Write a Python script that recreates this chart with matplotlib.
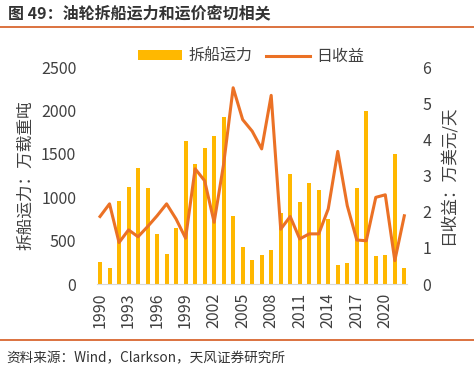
import matplotlib
matplotlib.use("Agg")
import matplotlib.pyplot as plt
import numpy as np
from matplotlib.lines import Line2D
from matplotlib.patches import Patch

plt.rcParams['font.family'] = ['Noto Sans CJK SC', 'DejaVu Sans']

years = list(range(1990, 2023))
# 拆船运力 (万载重吨)
scrap = [258, 185, 962, 1123, 1342, 1104, 573, 346, 642, 1646, 1385, 1565, 1712,
         1923, 785, 423, 283, 335, 392, 815, 1269, 950, 1162, 1088, 754, 223,
         238, 1104, 2000, 327, 338, 1504, 188]
# 日收益 (万美元/天)
earn = [1.87, 2.22, 1.15, 1.50, 1.31, 1.59, 1.89, 2.22, 1.80, 1.27, 3.19, 2.86, 1.71,
        3.32, 5.43, 4.55, 4.23, 3.74, 5.22, 1.52, 1.87, 1.25, 1.39, 1.39, 2.08, 3.67,
        2.17, 1.22, 1.20, 2.40, 2.47, 0.65, 1.89]
xticks = list(range(1990, 2021, 3))

bar_c = '#FFB800'
line_c = '#EB7125'
txt_c = '#404040'

fig = plt.figure(figsize=(4.74, 3.69), dpi=100)
ax = fig.add_axes([0.205, 0.230, 0.654, 0.588])
ax2 = ax.twinx()

ax.bar(years, scrap, width=0.42, color=bar_c, zorder=2)
ax2.plot(years, earn, color=line_c, lw=2.2, zorder=3)

ax.set_xlim(1989.7, 2022.3)
ax.set_ylim(0, 2500)
ax2.set_ylim(0, 6)
ax.set_yticks([0, 500, 1000, 1500, 2000, 2500])
ax2.set_yticks(range(7))
ax.set_xticks(xticks)
ax.set_xticklabels([str(y) for y in xticks], rotation=90)

for a in (ax, ax2):
    for s in a.spines.values():
        s.set_visible(False)
    a.tick_params(length=0, labelsize=11.5, colors=txt_c)
ax.spines['bottom'].set_visible(True)
ax.spines['bottom'].set_color('#D9D9D9')
ax.tick_params(axis='y', pad=15)
ax.tick_params(axis='x', pad=6)
ax2.tick_params(axis='y', pad=11)

ax.set_ylabel('拆船运力：万载重吨', fontsize=12, color=txt_c, labelpad=5)
ax2.set_ylabel('日收益：万美元/天', fontsize=12, color=txt_c, labelpad=6)

handles = [Patch(facecolor=bar_c, edgecolor='none'),
           Line2D([0], [0], color=line_c, lw=2.2)]
fig.legend(handles, ['拆船运力', '日收益'], loc='center', bbox_to_anchor=(0.53, 0.847),
           ncol=2, frameon=False, fontsize=11.5, handlelength=2.8, handleheight=0.6,
           columnspacing=0.8, handletextpad=0.4, labelcolor=txt_c)

fig.text(0.017, 0.965, '图 49：油轮拆船运力和运价密切相关', fontsize=11.5, fontweight='bold',
         color='#333333', va='center', ha='left')
fig.add_artist(Line2D([0, 1], [0.927, 0.927], color='#D65A1F', lw=1.2))
fig.add_artist(Line2D([0, 1], [0.079, 0.079], color='#D65A1F', lw=1.2))
fig.text(0.013, 0.03, '资料来源：Wind，Clarkson，天风证券研究所', fontsize=9.8,
         color='#333333', va='center', ha='left')

fig.savefig('out.png', dpi=100)
